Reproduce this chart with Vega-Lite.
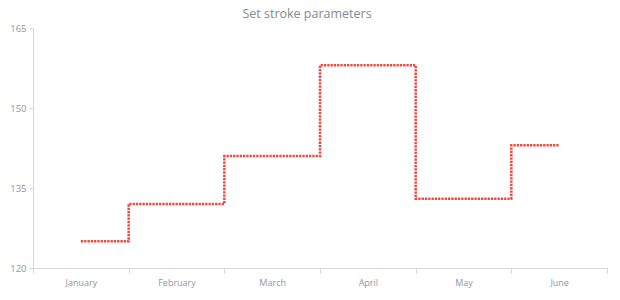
{
  "$schema": "https://vega.github.io/schema/vega-lite/v6.json",
  "width": 574,
  "height": 240,
  "autosize": {"type": "none"},
  "padding": {"left": 33, "top": 28, "right": 13, "bottom": 32},
  "background": "#ffffff",
  "title": {
    "text": "Set stroke parameters",
    "font": "Open Sans",
    "fontSize": 12.5,
    "fontWeight": "normal",
    "color": "#7f8a93",
    "anchor": "middle",
    "dx": -13,
    "offset": 3
  },
  "data": {
    "values": [
      {"month": "January", "value": 125},
      {"month": "February", "value": 132},
      {"month": "March", "value": 141},
      {"month": "April", "value": 158},
      {"month": "May", "value": 133},
      {"month": "June", "value": 143}
    ]
  },
  "mark": {
    "type": "line",
    "interpolate": "step",
    "color": "#f5463c",
    "strokeWidth": 2.5,
    "strokeDash": [2.3, 1]
  },
  "encoding": {
    "x": {
      "field": "month",
      "type": "nominal",
      "sort": null,
      "scale": {"type": "band", "paddingInner": 0, "paddingOuter": 0},
      "axis": {
        "title": null,
        "labelAngle": 0,
        "tickBand": "extent",
        "labelFont": "Open Sans",
        "labelFontSize": 9,
        "labelColor": "#8e979e",
        "labelPadding": 5,
        "domainColor": "#d6d6d6",
        "tickColor": "#d6d6d6",
        "tickSize": 5,
        "grid": false
      }
    },
    "y": {
      "field": "value",
      "type": "quantitative",
      "scale": {"domain": [120, 165], "nice": false, "zero": false},
      "axis": {
        "title": null,
        "values": [120, 135, 150, 165],
        "labelFont": "Open Sans",
        "labelFontSize": 9.5,
        "labelColor": "#8e979e",
        "labelPadding": 3,
        "domainColor": "#d6d6d6",
        "tickColor": "#d6d6d6",
        "tickSize": 4,
        "grid": false
      }
    }
  },
  "config": {"view": {"stroke": null}}
}
